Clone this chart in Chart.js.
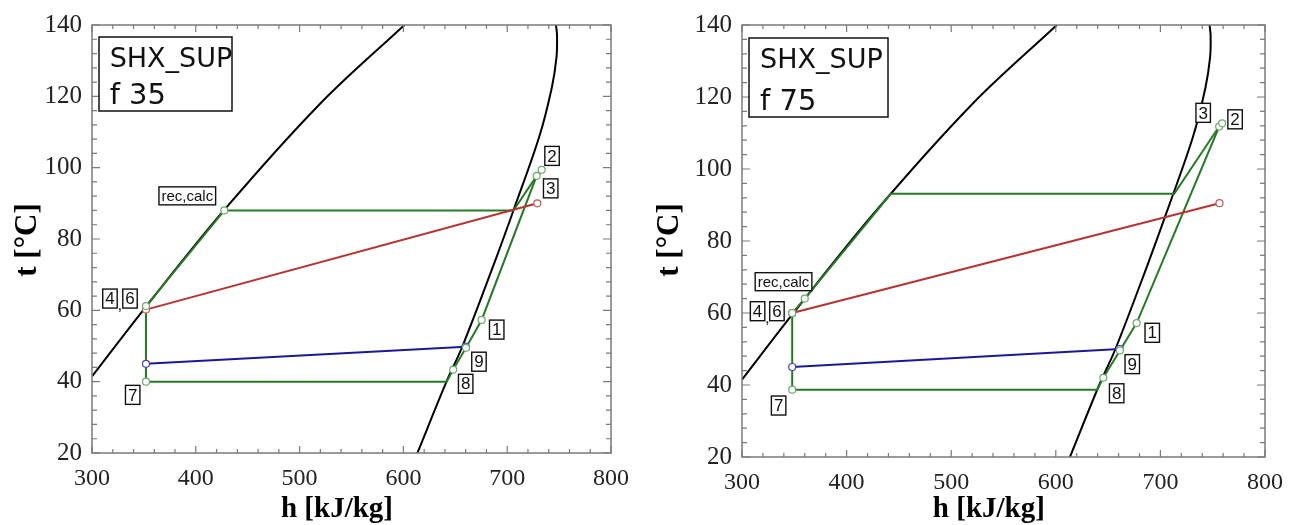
<!DOCTYPE html>
<html>
<head>
<meta charset="utf-8">
<script src="https://cdn.jsdelivr.net/npm/chart.js@4"></script>
<style>
body { margin: 0; background: #fff; }
#wrap { position: relative; width: 1300px; height: 525px; }
#left { position: absolute; left: 0; top: 0; }
#right { position: absolute; left: 640px; top: 0; }
</style>
</head>
<body>
<div id="wrap">
  <canvas id="left" width="640" height="525"></canvas>
  <canvas id="right" width="660" height="525"></canvas>
</div>
<script>
// tick labels
const hTicks = [300, 400, 500, 600, 700, 800];
const tTicks = [20, 40, 60, 80, 100, 120, 140];

// saturation lines [h, t]
const bubbleLine = [[300, 41.5], [350, 60.3], [427, 88], [520, 118], [601, 140]];
const dewLine = [[613.5, 20], [641.5, 40], [657, 50], [688, 73.6], [706, 88], [731, 108.8], [743, 122.5], [747.5, 131], [748, 137], [747, 140]];

// f 35 cycle
const f35Green = [[648, 43.4], [641.7, 40], [352, 40], [352, 61.2], [427.5, 88], [706, 88], [728.4, 97.7]];
const f35Vapour = [[648, 43.4], [660.3, 49.5], [675.4, 57.3], [728.4, 97.7], [733.2, 99.4]];
const f35Red = [[352, 60.2], [729, 90]];
const f35Blue = [[352, 45], [660, 49.8]];
const f35GreenPts = [[352, 40], [352, 61.2], [427.5, 88], [648, 43.4], [660.3, 49.5], [675.4, 57.3], [728.4, 97.7], [733.2, 99.4]];
const f35RedPts = [[352, 60.2], [729, 90]];
const f35BluePts = [[352, 45], [660, 49.8]];
const f35Tags = [['2', 743.2, 103.3], ['3', 741.9, 94.2], ['rec,calc', 391.8, 92.1], ['4', 317.3, 63.3], [',', 326.8, 61.3],
  ['6', 336.6, 63.3], ['7', 339.2, 36.3], ['1', 689.9, 54.6], ['9', 672.8, 45.6], ['8', 660, 39.4]];

// f 75 cycle
const f75Green = [[645.4, 42], [639.6, 38.7], [348, 38.7], [348, 60], [360, 64], [442.3, 93.1], [713.2, 93.1], [756.2, 111.8]];
const f75Vapour = [[645.4, 42], [661.3, 49.6], [677.3, 57.2], [756.2, 111.8], [759, 112.7]];
const f75Red = [[348, 60], [756.5, 90.5]];
const f75Blue = [[348, 45], [661, 50]];
const f75GreenPts = [[348, 38.7], [348, 60], [360, 64], [645.4, 42], [661.3, 49.6], [677.3, 57.2], [756.2, 111.8], [759, 112.7]];
const f75RedPts = [[348, 60], [756.5, 90.5]];
const f75BluePts = [[348, 45], [661, 50]];
const f75Tags = [['3', 740.9, 115.6], ['2', 771.4, 113.8], ['rec,calc', 339.7, 68.7], ['4', 314.9, 60.5], [',', 324.2, 58.5],
  ['6', 333.4, 60.5], ['7', 335, 34.3], ['1', 692.2, 54.5], ['9', 673.1, 45.8], ['8', 658.2, 37.7]];

const GREEN = 'rgb(38,122,38)';
const RED = 'rgb(185,50,50)';
const BLUE = 'rgb(25,25,150)';
const SERIF = '"Liberation Serif", "Times New Roman", serif';

function xy(arr) {
  return arr.map(([x, y]) => ({ x: x, y: y }));
}

function line(arr, color, tension) {
  return {
    data: xy(arr), showLine: true, borderColor: color, borderWidth: 2,
    pointRadius: 0, fill: false, tension: tension || 0
  };
}

function dots(arr, color) {
  return {
    data: xy(arr), showLine: false, pointRadius: 3.5, pointBackgroundColor: '#fff',
    pointBorderColor: color, pointBorderWidth: 1.2
  };
}

// frame with inward ticks on all four sides
const frameTicks = {
  id: 'frameTicks',
  afterDraw(chart) {
    const { ctx, chartArea: a, scales } = chart;
    ctx.save();
    ctx.strokeStyle = '#7a7a7a';
    ctx.lineWidth = 1.5;
    ctx.strokeRect(a.left, a.top, a.right - a.left, a.bottom - a.top);
    ctx.lineWidth = 1.2;
    ctx.beginPath();
    for (let h = 300; h <= 800; h += 20) {
      const px = scales.x.getPixelForValue(h);
      const len = h % 100 === 0 ? 7 : 4;
      ctx.moveTo(px, a.bottom); ctx.lineTo(px, a.bottom - len);
      ctx.moveTo(px, a.top); ctx.lineTo(px, a.top + len);
    }
    for (let t = 20; t <= 140; t += 4) {
      const py = scales.y.getPixelForValue(t);
      const len = t % 20 === 0 ? 8 : 5;
      ctx.moveTo(a.left, py); ctx.lineTo(a.left + len, py);
      ctx.moveTo(a.right, py); ctx.lineTo(a.right - len, py);
    }
    ctx.stroke();

    // axis titles
    ctx.fillStyle = '#000';
    ctx.font = 'bold 29px ' + SERIF;
    ctx.textAlign = 'center';
    ctx.textBaseline = 'middle';
    ctx.fillText('h [kJ/kg]', a.left + (a.right - a.left) * 0.472, chart.height - 15);
    ctx.font = 'bold 31px ' + SERIF;
    ctx.translate(chart.options.titleX, 240);
    ctx.rotate(-Math.PI / 2);
    ctx.fillText('t [°C]', 0, 0);
    ctx.restore();
  }
};

// boxed point numbers and the case caption
const tagBoxes = {
  id: 'tagBoxes',
  afterDraw(chart) {
    const { ctx, chartArea: a, scales } = chart;
    const o = chart.options;
    ctx.save();
    ctx.textAlign = 'center';
    ctx.textBaseline = 'middle';
    o.tags.forEach(([txt, h, t]) => {
      const px = scales.x.getPixelForValue(h);
      const py = scales.y.getPixelForValue(t);
      ctx.font = (txt.length > 1 ? '15px' : '17px') + ' "Liberation Sans", Arial, sans-serif';
      if (txt === ',') {
        ctx.fillStyle = '#222';
        ctx.fillText(txt, px, py);
        return;
      }
      const w = Math.max(14, ctx.measureText(txt).width + 5);
      const hgt = txt.length > 1 ? 18 : 19;
      ctx.fillStyle = '#fff';
      ctx.fillRect(px - w / 2, py - hgt / 2, w, hgt);
      ctx.strokeStyle = '#111';
      ctx.lineWidth = 1.4;
      ctx.strokeRect(px - w / 2, py - hgt / 2, w, hgt);
      ctx.fillStyle = '#111';
      ctx.fillText(txt, px, py + 1);
    });

    const c = o.caption;
    const bx = a.left + c.x, by = a.top + c.y;
    ctx.fillStyle = '#fff';
    ctx.fillRect(bx, by, c.w, c.h);
    ctx.strokeStyle = '#111';
    ctx.lineWidth = 1.5;
    ctx.strokeRect(bx, by, c.w, c.h);
    ctx.fillStyle = '#111';
    ctx.textAlign = 'left';
    ctx.textBaseline = 'alphabetic';
    ctx.font = '27px "DejaVu Sans", Verdana, sans-serif';
    ctx.fillText('SHX_SUP', bx + c.w * 0.08, by + 30);
    ctx.font = '29px "DejaVu Sans", Verdana, sans-serif';
    ctx.fillText(c.text, bx + c.w * 0.08, by + c.h - 7);
    ctx.restore();
  }
};

function makeChart(id, s) {
  return new Chart(document.getElementById(id), {
    type: 'scatter',
    data: {
      datasets: [
        dots(s.greenPts, 'rgb(110,170,110)'),
        dots(s.redPts, 'rgb(190,90,90)'),
        dots(s.bluePts, 'rgb(70,70,170)'),
        line(s.blue, BLUE),
        line(s.red, RED),
        line(s.vapour, GREEN),
        line(s.green, GREEN),
        line(dewLine, '#000', 0.35),
        line(bubbleLine, '#000', 0.35)
      ]
    },
    options: {
      responsive: false,
      devicePixelRatio: 1,
      animation: false,
      tags: s.tags,
      caption: s.caption,
      titleX: s.titleX,
      layout: { padding: s.padding },
      plugins: { legend: { display: false }, tooltip: { enabled: false } },
      scales: {
        x: {
          type: 'linear', min: 300, max: 800,
          afterBuildTicks: sc => { sc.ticks = hTicks.map(v => ({ value: v })); },
          afterFit: sc => { sc.height = s.xHeight; },
          grid: { display: false, drawTicks: false },
          border: { display: false },
          ticks: { font: { family: SERIF, size: 24 }, color: '#222', padding: 11, maxRotation: 0 }
        },
        y: {
          type: 'linear', min: 20, max: 140,
          afterBuildTicks: sc => { sc.ticks = tTicks.map(v => ({ value: v })); },
          afterFit: sc => { sc.width = s.yWidth; },
          grid: { display: false, drawTicks: false },
          border: { display: false },
          ticks: { font: { family: SERIF, size: 25 }, color: '#222', padding: 10 }
        }
      }
    },
    plugins: [frameTicks, tagBoxes]
  });
}

makeChart('left', {
  green: f35Green, vapour: f35Vapour, red: f35Red, blue: f35Blue,
  greenPts: f35GreenPts, redPts: f35RedPts, bluePts: f35BluePts, tags: f35Tags,
  caption: { x: 7, y: 12, w: 133, h: 74, text: 'f 35' },
  padding: { left: 0, right: 29, top: 21, bottom: 0 },
  yWidth: 92, xHeight: 72, titleX: 28
});

makeChart('right', {
  green: f75Green, vapour: f75Vapour, red: f75Red, blue: f75Blue,
  greenPts: f75GreenPts, redPts: f75RedPts, bluePts: f75BluePts, tags: f75Tags,
  caption: { x: 7, y: 13, w: 139, h: 79, text: 'f 75' },
  padding: { left: 0, right: 35, top: 22, bottom: 0 },
  yWidth: 102, xHeight: 68, titleX: 30
});
</script>
</body>
</html>
